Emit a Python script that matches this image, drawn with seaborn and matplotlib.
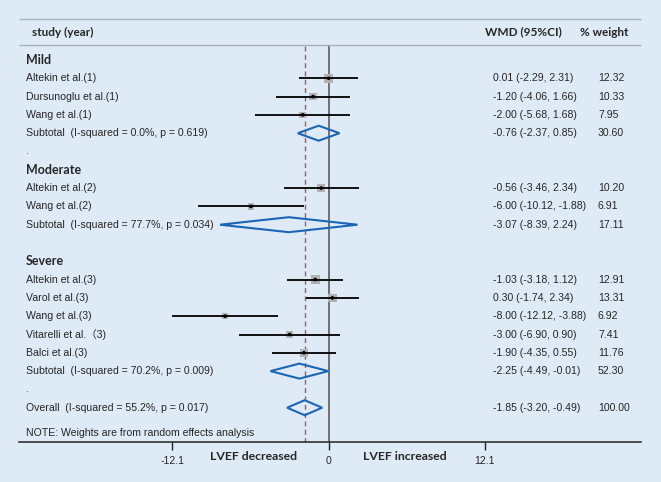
import numpy as np
import pandas as pd
import matplotlib
matplotlib.use("Agg")
import matplotlib.pyplot as plt
from matplotlib.patches import Polygon
from matplotlib.transforms import blended_transform_factory
import seaborn as sns

# ---- data ----
study_labels = ["Altekin et al.(1)", "Dursunoglu et al.(1)", "Wang et al.(1)",
                "Altekin et al.(2)", "Wang et al.(2)",
                "Altekin et al.(3)", "Varol et al.(3)", "Wang et al.(3)",
                "Vitarelli et al.\uff083)", "Balci et al.(3)"]
study_group = ["Mild", "Mild", "Mild", "Moderate", "Moderate",
               "Severe", "Severe", "Severe", "Severe", "Severe"]
study_est = [0.01, -1.20, -2.00, -0.56, -6.00, -1.03, 0.30, -8.00, -3.00, -1.90]
study_lo = [-2.29, -4.06, -5.68, -3.46, -10.12, -3.18, -1.74, -12.12, -6.90, -4.35]
study_hi = [2.31, 1.66, 1.68, 2.34, -1.88, 1.12, 2.34, -3.88, 0.90, 0.55]
study_weight = [12.32, 10.33, 7.95, 10.20, 6.91, 12.91, 13.31, 6.92, 7.41, 11.76]

pooled_labels = ["Subtotal  (I-squared = 0.0%, p = 0.619)",
                 "Subtotal  (I-squared = 77.7%, p = 0.034)",
                 "Subtotal  (I-squared = 70.2%, p = 0.009)",
                 "Overall  (I-squared = 55.2%, p = 0.017)"]
pooled_est = [-0.76, -3.07, -2.25, -1.85]
pooled_lo = [-2.37, -8.39, -4.49, -3.20]
pooled_hi = [0.85, 2.24, -0.01, -0.49]
pooled_weight = [30.60, 17.11, 52.30, 100.00]

groups = ["Mild", "Moderate", "Severe"]
tick_vals = [-12.1, 0, 12.1]
tick_labels = ["-12.1", "0", "12.1"]

# ---- row layout (top to bottom) ----
row_h = 18.3
y0 = 60
rows = []
for gi, g in enumerate(groups):
    rows.append(("group", g))
    for i in range(len(study_labels)):
        if study_group[i] == g:
            rows.append(("study", i))
    rows.append(("pooled", gi))
    rows.append(("dot" if gi != 1 else "blank", None))
rows.append(("pooled", 3))
row_y = {idx: y0 + row_h * idx for idx in range(len(rows))}

study_y = [0] * len(study_labels)
pooled_y = [0] * len(pooled_labels)
for idx, (kind, p) in enumerate(rows):
    if kind == "study":
        study_y[p] = row_y[idx]
    elif kind == "pooled":
        pooled_y[p] = row_y[idx]

df = pd.DataFrame({"label": study_labels, "est": study_est, "lo": study_lo,
                   "hi": study_hi, "weight": study_weight, "y": study_y})

# ---- figure ----
sns.set_style("white")
bg = "#deebf7"
plt.rcParams["font.family"] = ["Liberation Sans", "Noto Sans CJK SC", "DejaVu Sans"]
W, H = 661, 482
fig = plt.figure(figsize=(W / 100, H / 100), dpi=100, facecolor=bg)
ax = fig.add_axes([0, 0, 1, 1], facecolor=bg)

px_per_unit = 12.93
zero_px = 328.5
ax.set_xlim(-zero_px / px_per_unit, (W - zero_px) / px_per_unit)
ax.set_ylim(H, 0)

def px2x(p):
    return (p - zero_px) / px_per_unit

tr = blended_transform_factory(ax.transAxes, ax.transData)
def fx(p):
    return p / W

axis_y = 442
top_y = 46

# reference lines
ax.vlines(0, top_y, axis_y, color="#6e6e6e", lw=1.4, zorder=1)
ax.vlines(pooled_est[3], top_y, axis_y, color="#a85a5a", lw=1.0,
          linestyles=(0, (3.5, 2.5)), zorder=1)

# header rules
ax.hlines([19, 45], px2x(19), px2x(641), color="#a9b2bc", lw=1.0)

# weight squares, CI lines, point estimates
sns.scatterplot(data=df, x="est", y="y", size="weight", sizes=(0, 3.0 * 14),
                size_norm=(0, 14), marker="s", color="#b2b2b2", edgecolor="none",
                legend=False, ax=ax, zorder=2)
ax.hlines(df["y"], df["lo"], df["hi"], color="black", lw=1.3, zorder=3)
sns.scatterplot(data=df, x="est", y="y", marker="o", color="black", s=7,
                edgecolor="none", legend=False, ax=ax, zorder=4)

# pooled diamonds
for e, lo, hi, y in zip(pooled_est, pooled_lo, pooled_hi, pooled_y):
    ax.add_patch(Polygon([(lo, y), (e, y - 7.5), (hi, y), (e, y + 7.5)],
                         closed=True, fill=False, edgecolor="#1a66b5", lw=1.5, zorder=3))

# text columns
lab_fs = 7.6
bold_font = ["Lato", "DejaVu Sans"]
ax.text(fx(32), 32, "study (year)", transform=tr, fontsize=8.5, fontweight="bold",
        family=bold_font, va="center")
ax.text(fx(485), 32, "WMD (95%CI)", transform=tr, fontsize=8.5, fontweight="bold",
        family=bold_font, va="center")
ax.text(fx(580), 32, "% weight", transform=tr, fontsize=8.5, fontweight="bold",
        family=bold_font, va="center")

for idx, (kind, p) in enumerate(rows):
    y = row_y[idx]
    if kind == "group":
        ax.text(fx(26), y, p, transform=tr, fontsize=9.0, fontweight="bold",
                family=bold_font, va="center")
    elif kind == "dot":
        ax.text(fx(26), y, ".", transform=tr, fontsize=lab_fs, va="center", color="#555555")

for i in range(len(study_labels)):
    y = study_y[i]
    ax.text(fx(26), y, study_labels[i], transform=tr, fontsize=lab_fs, va="center")
    ax.text(fx(493), y, f"{study_est[i]:.2f} ({study_lo[i]:.2f}, {study_hi[i]:.2f})",
            transform=tr, fontsize=lab_fs, va="center")
    ax.text(fx(598), y, f"{study_weight[i]:.2f}", transform=tr, fontsize=lab_fs, va="center")

for i in range(len(pooled_labels)):
    y = pooled_y[i]
    ax.text(fx(26), y, pooled_labels[i], transform=tr, fontsize=lab_fs, va="center")
    ax.text(fx(493), y, f"{pooled_est[i]:.2f} ({pooled_lo[i]:.2f}, {pooled_hi[i]:.2f})",
            transform=tr, fontsize=lab_fs, va="center")
    ax.text(fx(598), y, f"{pooled_weight[i]:.2f}", transform=tr, fontsize=lab_fs, va="center")

ax.text(fx(26), 433, "NOTE: Weights are from random effects analysis", transform=tr,
        fontsize=lab_fs, va="center")

# x axis
for s in ["top", "left", "right"]:
    ax.spines[s].set_visible(False)
ax.spines["bottom"].set_position(("data", axis_y))
ax.spines["bottom"].set_bounds(px2x(19), px2x(641))
ax.spines["bottom"].set_color("#222222")
ax.spines["bottom"].set_linewidth(1.1)
ax.set_xticks(tick_vals)
ax.set_xticklabels(tick_labels)
ax.tick_params(axis="x", direction="out", length=6, width=1.0, color="#222222",
               labelsize=lab_fs, pad=4, bottom=True)
ax.set_yticks([])
ax.set_xlabel("")
ax.set_ylabel("")

ax.text(px2x(253), 457, "LVEF decreased", fontsize=8.8, fontweight="bold",
        family=bold_font, ha="center", va="center")
ax.text(px2x(405), 457, "LVEF increased", fontsize=8.8, fontweight="bold",
        family=bold_font, ha="center", va="center")

fig.savefig("out.png", dpi=100, facecolor=bg)
